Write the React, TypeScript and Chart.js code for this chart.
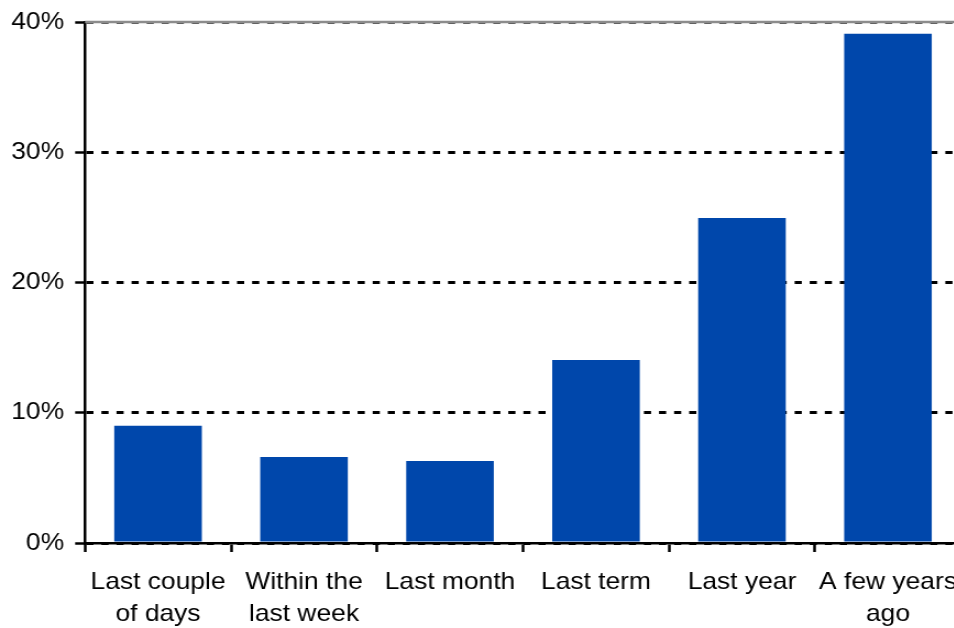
import React, { useEffect, useRef } from "react";
import { Chart, registerables } from "chart.js";

Chart.register(...registerables);

const categories: (string | string[])[] = [
  ["Last couple", "of days"],
  ["Within the", "last week"],
  "Last month",
  "Last term",
  "Last year",
  ["A few years", "ago"],
];
const shares: number[] = [9.0, 6.6, 6.3, 14.05, 24.95, 39.1];
const yTicks: number[] = [0, 10, 20, 30, 40];

const BAR_COLOR = "#0047AB";
const FAMILY = "'Liberation Sans', Arial, sans-serif";
const X_FONT = { family: FAMILY, size: 24, lineHeight: 1.32 };
const Y_FONT = { family: FAMILY, size: 24, lineHeight: 1 };
const STRETCH = 1.1;

const topLinePlugin = {
  id: "topLine",
  beforeDatasetsDraw(chart: any) {
    const { ctx, chartArea } = chart;
    ctx.save();
    ctx.strokeStyle = "#8c8c8c";
    ctx.lineWidth = 2.5;
    ctx.beginPath();
    ctx.moveTo(chartArea.left, chartArea.top);
    ctx.lineTo(chartArea.right, chartArea.top);
    ctx.stroke();
    ctx.restore();
  },
};

export default function App() {
  const ref = useRef<HTMLCanvasElement | null>(null);

  useEffect(() => {
    document.body.style.margin = "0";
    document.body.style.overflow = "hidden";
    if (!ref.current) return;
    const chart = new Chart(ref.current, {
      type: "bar",
      data: {
        labels: categories,
        datasets: [
          {
            data: shares,
            backgroundColor: BAR_COLOR,
            borderWidth: 0,
            barPercentage: 0.6,
            categoryPercentage: 1,
          },
        ],
      },
      plugins: [topLinePlugin],
      options: {
        animation: false,
        responsive: false,
        devicePixelRatio: 1,
        layout: { padding: { top: 21, right: 6.4, left: 0, bottom: 0 } },
        plugins: { legend: { display: false }, tooltip: { enabled: false } },
        scales: {
          x: {
            offset: true,
            grid: {
              offset: true,
              drawOnChartArea: false,
              drawTicks: true,
              tickLength: 9,
              tickColor: "#000",
              tickWidth: 2.5,
            },
            border: { display: true, color: "#000", width: 2.5 },
            ticks: {
              color: "#000",
              font: X_FONT,
              padding: 15,
              maxRotation: 0,
              autoSkip: false,
            },
            afterFit(scale: any) {
              scale.height = 85;
              scale.paddingLeft = 0;
              scale.paddingRight = 0;
            },
          },
          y: {
            min: 0,
            max: 40,
            afterBuildTicks(scale: any) {
              scale.ticks = yTicks.map((v) => ({ value: v }));
            },
            grid: {
              color: (c: any) => (c.tick && c.tick.value === 40 ? "#555" : "#000"),
              lineWidth: 3,
              drawTicks: true,
              tickLength: 9,
              tickColor: "#000",
              tickWidth: 2.5,
              tickBorderDash: [],
            },
            border: { display: true, color: "#000", width: 2.5, dash: [6.5, 7.2] },
            ticks: {
              color: "#000",
              font: Y_FONT,
              padding: 10,
              callback: (v: any) => `${v}%`,
            },
            afterFit(scale: any) {
              scale.width = 77.3;
            },
          },
        },
      },
    });
    return () => chart.destroy();
  }, []);

  return (
    <div style={{ width: 954, height: 628, overflow: "hidden", position: "relative" }}>
      <div style={{ width: 880, height: 628, transform: `scaleX(${STRETCH})`, transformOrigin: "0 0" }}>
        <canvas ref={ref} width={880} height={628} style={{ display: "block" }} />
      </div>
    </div>
  );
}
